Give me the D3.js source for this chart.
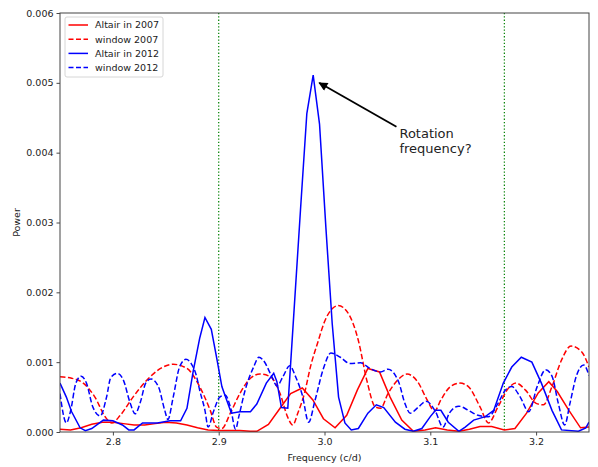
<!DOCTYPE html>
<html>
<head>
<meta charset="utf-8">
<script src="https://cdn.jsdelivr.net/npm/d3@7"></script>
<style>
  body { margin: 0; background: #fff; }
  text { font-family: "DejaVu Sans", sans-serif; fill: #222; }
</style>
</head>
<body>
<div id="chart"></div>
<script>
/* Periodogram of Altair, 2007 vs 2012 runs */

// [frequency (c/d), power]
var altair2007 = [
  [2.750,0.00004],[2.760,0.00003],[2.770,0.00006],[2.780,0.00011],[2.790,0.00014],
  [2.800,0.00014],[2.810,0.00012],[2.820,0.00010],[2.830,0.00010],[2.840,0.00012],
  [2.850,0.00014],[2.860,0.00013],[2.870,0.00010],[2.880,0.00006],[2.890,0.00003],
  [2.900,0.00002],[2.910,0.00002],[2.920,0.00002],[2.930,0.00001],[2.936,0.00001],
  [2.947,0.00011],[2.958,0.00034],[2.968,0.00055],[2.979,0.00063],[2.989,0.00046],
  [2.999,0.00019],[3.010,0.00006],[3.021,0.00024],[3.031,0.00060],[3.041,0.00091],
  [3.052,0.00086],[3.062,0.00050],[3.073,0.00017],[3.084,0.00001],[3.095,0.00003],
  [3.105,0.00006],[3.116,0.00003],[3.127,0.00001],[3.137,0.00004],[3.147,0.00008],
  [3.158,0.00008],[3.170,0.00003],[3.180,0.00005],[3.191,0.00027],[3.202,0.00056],
  [3.212,0.00072],[3.220,0.00058],[3.231,0.00031],[3.242,0.00006],[3.250,0.00007]
];

var window2007 = [
  [2.750,0.00079],[2.761,0.00077],[2.772,0.00070],[2.783,0.00050],[2.793,0.00021],
  [2.799,0.00013],[2.807,0.00024],[2.819,0.00050],[2.832,0.00074],[2.845,0.00091],
  [2.857,0.00097],[2.870,0.00091],[2.882,0.00065],[2.892,0.00031],[2.898,0.00007],
  [2.903,0.00005],[2.911,0.00027],[2.920,0.00055],[2.930,0.00077],[2.939,0.00083],
  [2.949,0.00079],[2.958,0.00055],[2.965,0.00022],[2.970,0.00010],[2.975,0.00028],
  [2.981,0.00055],[2.987,0.00095],[2.994,0.00130],[3.000,0.00158],[3.007,0.00176],
  [3.013,0.00181],[3.022,0.00171],[3.032,0.00131],[3.040,0.00074],[3.048,0.00036],
  [3.053,0.00034],[3.060,0.00055],[3.069,0.00074],[3.078,0.00083],[3.088,0.00072],
  [3.097,0.00046],[3.104,0.00030],[3.110,0.00046],[3.119,0.00065],[3.128,0.00070],
  [3.136,0.00065],[3.147,0.00036],[3.155,0.00013],[3.164,0.00036],[3.174,0.00063],
  [3.181,0.00070],[3.190,0.00060],[3.200,0.00041],[3.207,0.00039],[3.215,0.00065],
  [3.224,0.00103],[3.233,0.00123],[3.243,0.00115],[3.250,0.00093]
];

var altair2012 = [
  [2.750,0.00070],[2.756,0.00050],[2.761,0.00029],[2.769,0.00006],[2.774,0.00002],
  [2.780,0.00005],[2.791,0.00017],[2.800,0.00016],[2.809,0.00010],[2.815,0.00003],
  [2.820,0.00003],[2.828,0.00013],[2.842,0.00013],[2.854,0.00016],[2.864,0.00016],
  [2.870,0.00034],[2.876,0.00088],[2.882,0.00134],[2.887,0.00164],[2.893,0.00147],
  [2.898,0.00107],[2.903,0.00065],[2.907,0.00048],[2.912,0.00027],[2.920,0.00029],
  [2.930,0.00029],[2.936,0.00040],[2.945,0.00070],[2.952,0.00084],[2.955,0.00072],
  [2.9593,0.00035],[2.9653,0.00034],[2.9713,0.00176],[2.9773,0.00318],[2.9833,0.00456],
  [2.9893,0.00511],[2.9953,0.00441],[3.0013,0.00293],[3.0073,0.00155],[3.0133,0.00050],
  [3.0193,0.00013],[3.0253,0.00003],[3.032,0.00005],[3.041,0.00027],[3.049,0.00039],
  [3.056,0.00035],[3.067,0.00014],[3.076,0.00004],[3.084,0.00001],[3.092,0.00005],
  [3.100,0.00022],[3.105,0.00031],[3.110,0.00031],[3.117,0.00014],[3.127,0.00001],
  [3.133,0.00007],[3.141,0.00017],[3.152,0.00022],[3.160,0.00031],[3.169,0.00070],
  [3.177,0.00093],[3.186,0.00107],[3.196,0.00100],[3.205,0.00070],[3.215,0.00031],
  [3.224,0.00003],[3.240,0.00001],[3.247,0.00006],[3.250,0.00014]
];

var window2012 = [
  [2.750,0.00055],[2.756,0.00013],[2.760,0.00030],[2.765,0.00070],[2.770,0.00080],
  [2.775,0.00070],[2.781,0.00036],[2.788,0.00023],[2.794,0.00050],[2.798,0.00078],
  [2.804,0.00084],[2.810,0.00074],[2.816,0.00043],[2.821,0.00026],[2.826,0.00043],
  [2.831,0.00070],[2.836,0.00076],[2.843,0.00065],[2.849,0.00031],[2.852,0.00018],
  [2.857,0.00050],[2.863,0.00093],[2.869,0.00104],[2.874,0.00098],[2.879,0.00080],
  [2.882,0.00060],[2.887,0.00031],[2.890,0.00007],[2.895,0.00029],[2.901,0.00050],
  [2.906,0.00053],[2.911,0.00036],[2.916,0.00004],[2.919,0.00022],[2.925,0.00060],
  [2.933,0.00093],[2.938,0.00107],[2.942,0.00103],[2.950,0.00080],[2.955,0.00066],
  [2.961,0.00080],[2.967,0.00095],[2.973,0.00078],[2.979,0.00053],[2.985,0.00014],
  [2.991,0.00045],[2.999,0.00091],[3.006,0.00113],[3.015,0.00107],[3.024,0.00098],
  [3.034,0.00099],[3.043,0.00091],[3.053,0.00086],[3.060,0.00090],[3.070,0.00072],
  [3.076,0.00041],[3.081,0.00027],[3.089,0.00036],[3.096,0.00044],[3.105,0.00029],
  [3.112,0.00007],[3.118,0.00027],[3.127,0.00037],[3.136,0.00031],[3.145,0.00024],
  [3.155,0.00022],[3.164,0.00041],[3.171,0.00060],[3.177,0.00065],[3.185,0.00050],
  [3.193,0.00029],[3.201,0.00065],[3.209,0.00089],[3.215,0.00080],[3.221,0.00041],
  [3.227,0.00010],[3.232,0.00041],[3.238,0.00080],[3.245,0.00096],[3.250,0.00081]
];

var xTicks = [2.8, 2.9, 3.0, 3.1, 3.2];
var yTicks = [0, 0.001, 0.002, 0.003, 0.004, 0.005, 0.006];
var markerFreqs = [2.90, 3.17];   // green dotted lines
var seriesNames = ["Altair in 2007", "window 2007", "Altair in 2012", "window 2012"];
var annotationText = ["Rotation", "frequency?"];
var annotationTip = [2.995, 0.0050];
var annotationTail = [3.068, 0.00437];

var W = 598, H = 467;
var margin = {left: 60, top: 13, right: 9, bottom: 35};
var w = W - margin.left - margin.right,
    h = H - margin.top - margin.bottom;

var svg = d3.select("#chart").append("svg")
  .attr("width", W).attr("height", H);

var defs = svg.append("defs");
defs.append("clipPath").attr("id", "clip")
  .append("rect").attr("width", w).attr("height", h);
defs.append("marker")
  .attr("id", "head")
  .attr("viewBox", "0 0 10 10")
  .attr("refX", 9).attr("refY", 5)
  .attr("markerWidth", 6).attr("markerHeight", 5)
  .attr("markerUnits", "strokeWidth")
  .attr("orient", "auto")
  .append("path").attr("d", "M0,0 L10,5 L0,10 z").attr("fill", "#000");

var g = svg.append("g")
  .attr("transform", "translate(" + margin.left + "," + margin.top + ")");

var x = d3.scaleLinear().domain([2.75, 3.25]).range([0, w]);
var y = d3.scaleLinear().domain([0, 0.006]).range([h, 0]);

// vertical reference lines
g.selectAll(".vline").data(markerFreqs).enter().append("line")
  .attr("x1", function(d) { return x(d); })
  .attr("x2", function(d) { return x(d); })
  .attr("y1", 0).attr("y2", h)
  .attr("stroke", "#008000")
  .attr("stroke-width", 1.2)
  .attr("stroke-dasharray", "1.3,2");

var series = [
  {name: seriesNames[0], data: altair2007, color: "#ff0000", dash: null, smooth: false},
  {name: seriesNames[1], data: window2007, color: "#ff0000", dash: "5.5,2.5", smooth: true},
  {name: seriesNames[2], data: altair2012, color: "#0000ff", dash: null, smooth: false},
  {name: seriesNames[3], data: window2012, color: "#0000ff", dash: "5.5,2.5", smooth: true}
];

var plot = g.append("g").attr("clip-path", "url(#clip)");
series.forEach(function(s) {
  var line = d3.line()
    .x(function(d) { return x(d[0]); })
    .y(function(d) { return y(d[1]); })
    .curve(s.smooth ? d3.curveMonotoneX : d3.curveLinear);
  plot.append("path")
    .datum(s.data)
    .attr("d", line)
    .attr("fill", "none")
    .attr("stroke", s.color)
    .attr("stroke-width", 1.5)
    .attr("stroke-dasharray", s.dash);
});

// axes
var xAxis = g.append("g")
  .attr("transform", "translate(0," + h + ")")
  .call(d3.axisBottom(x).tickValues(xTicks).tickFormat(d3.format(".1f"))
    .tickSize(3.5).tickSizeOuter(0));
var yAxis = g.append("g")
  .call(d3.axisLeft(y).tickValues(yTicks).tickFormat(d3.format(".3f"))
    .tickSize(3.5).tickSizeOuter(0));
[xAxis, yAxis].forEach(function(a) {
  a.select(".domain").remove();
  a.selectAll("line").attr("stroke", "#333").attr("stroke-width", 0.9);
  a.selectAll("text").attr("font-size", 9.5).attr("fill", "#222")
    .style("font-family", "DejaVu Sans");
});

g.append("rect")
  .attr("width", w).attr("height", h)
  .attr("fill", "none").attr("stroke", "#444").attr("stroke-width", 1);

svg.append("text")
  .attr("x", margin.left + w / 2).attr("y", 461)
  .attr("text-anchor", "middle").attr("font-size", 9.5)
  .text("Frequency (c/d)");
svg.append("text")
  .attr("transform", "translate(20," + (margin.top + h / 2) + ") rotate(-90)")
  .attr("text-anchor", "middle").attr("font-size", 9.5)
  .text("Power");

// annotation arrow
g.append("line")
  .attr("x1", x(annotationTail[0])).attr("y1", y(annotationTail[1]))
  .attr("x2", x(annotationTip[0])).attr("y2", y(annotationTip[1]))
  .attr("stroke", "#000").attr("stroke-width", 1.8)
  .attr("marker-end", "url(#head)");
var ann = g.append("text")
  .attr("x", x(annotationTail[0]) + 3)
  .attr("y", y(annotationTail[1]) + 11.5)
  .attr("font-size", 13);
annotationText.forEach(function(t, i) {
  ann.append("tspan").attr("x", x(annotationTail[0]) + 3)
    .attr("dy", i === 0 ? 0 : 15).text(t);
});

// legend
var legend = svg.append("g").attr("transform", "translate(65,17)");
legend.append("rect")
  .attr("width", 98).attr("height", 60).attr("rx", 2)
  .attr("fill", "#fff").attr("fill-opacity", 0.8)
  .attr("stroke", "#ccc").attr("stroke-width", 0.8);
series.forEach(function(s, i) {
  var row = legend.append("g").attr("transform", "translate(0," + (8 + i * 14.2) + ")");
  row.append("line")
    .attr("x1", 3.5).attr("x2", 23)
    .attr("stroke", s.color).attr("stroke-width", 1.5)
    .attr("stroke-dasharray", s.dash ? "5,2.5" : null);
  row.append("text")
    .attr("x", 30).attr("dy", "0.35em").attr("font-size", 9.5)
    .text(s.name);
});
</script>
</body>
</html>
